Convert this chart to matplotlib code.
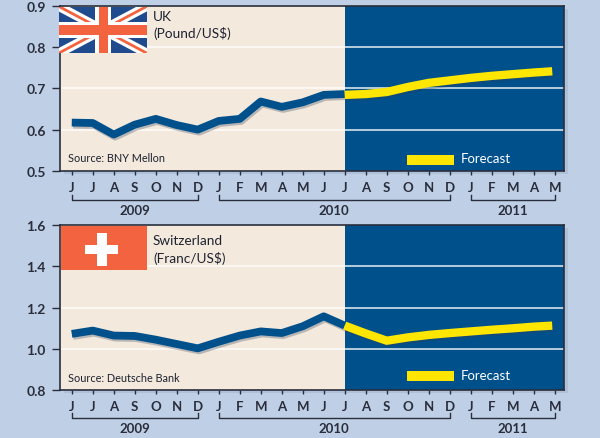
import matplotlib
matplotlib.use('Agg')
import matplotlib.pyplot as plt
import matplotlib.patheffects as pe
from matplotlib.patches import Rectangle

months = ['J', 'J', 'A', 'S', 'O', 'N', 'D', 'J', 'F', 'M', 'A', 'M',
          'J', 'J', 'A', 'S', 'O', 'N', 'D', 'J', 'F', 'M', 'A', 'M']
years = ['2009', '2010', '2011']
year_spans = [(0, 6), (7, 18), (19, 23)]
split = 13

hist_x = list(range(0, 14))
fc_x = [13, 14, 15, 16, 17, 18, 19, 20, 21, 22, 22.88]

uk_hist = [0.617, 0.616, 0.588, 0.612, 0.626, 0.611, 0.600, 0.621, 0.626, 0.668, 0.655, 0.666, 0.684, 0.686]
uk_fc = [0.684, 0.686, 0.691, 0.703, 0.713, 0.719, 0.725, 0.730, 0.734, 0.738, 0.741]
uk_ticks = [0.5, 0.6, 0.7, 0.8, 0.9]

ch_hist = [1.073, 1.089, 1.065, 1.063, 1.045, 1.024, 1.003, 1.035, 1.065, 1.085, 1.077, 1.110, 1.158, 1.113]
ch_fc = [1.113, 1.075, 1.040, 1.056, 1.068, 1.077, 1.085, 1.093, 1.100, 1.108, 1.113]
ch_ticks = [0.8, 1.0, 1.2, 1.4, 1.6]

BG = '#BFD0E6'
BEIGE = '#F3E9DD'
BLUE = '#00508C'
YELLOW = '#FFE600'
DARK = '#2A2E3C'
FLAG_RED = '#F4633F'
FLAG_BLUE = '#1F4B8E'

plt.rcParams['font.family'] = ['Lato', 'DejaVu Sans']

W, H = 600, 439
fig = plt.figure(figsize=(6, 4.39), dpi=100, facecolor=BG)


def make_axes(left, top, right, bottom):
    return fig.add_axes([left / W, 1 - bottom / H, (right - left) / W, (bottom - top) / H])


def draw_panel(ax, hist, fc, ticks, fmt, bracket_y, year_y, pad):
    ax.set_facecolor(BEIGE)
    ax.set_xlim(-0.56, 23.44)
    ax.set_ylim(ticks[0], ticks[-1])
    ax.axvspan(split, 23.44, color=BLUE, lw=0, zorder=1)
    for t in ticks[1:-1]:
        ax.axhline(t, color='white', lw=1.1, zorder=1.5, alpha=0.9)

    shadow = [pe.SimpleLineShadow(offset=(1, -1.5), shadow_color='#30405A', alpha=0.3), pe.Normal()]
    ax.plot(hist_x, hist, color=BLUE, lw=5.6, zorder=3, solid_capstyle='butt', path_effects=shadow)
    ax.plot(fc_x, fc, color=YELLOW, lw=6, zorder=4, solid_capstyle='butt', path_effects=shadow)

    ax.set_xticks(range(len(months)))
    ax.set_xticklabels(months, fontsize=9.5, color=DARK, fontweight='bold')
    ax.tick_params(axis='x', length=3, width=1, color=DARK, pad=pad)
    ax.set_yticks(ticks)
    ax.set_yticklabels([fmt % t for t in ticks], fontsize=10, color=DARK, fontweight='bold')
    ax.tick_params(axis='y', length=5.8, width=1, color=DARK, pad=4.5)
    for s in ax.spines.values():
        s.set_color(DARK)
        s.set_linewidth(1.2)

    trans = ax.get_xaxis_transform()
    for name, (a, b) in zip(years, year_spans):
        ax.plot([a, a, b, b], [bracket_y + 0.03, bracket_y, bracket_y, bracket_y + 0.03],
                color=DARK, lw=1, transform=trans, clip_on=False)
        ax.text((a + b) / 2, year_y, name, transform=trans, ha='center', va='center',
                fontsize=9.5, color=DARK, fontweight='bold')


ax1 = make_axes(60, 6.5, 564, 172)
ax2 = make_axes(60, 226, 564, 391.3)
draw_panel(ax1, uk_hist, uk_fc, uk_ticks, '%.1f', -0.175, -0.235, 4)
draw_panel(ax2, ch_hist, ch_fc, ch_ticks, '%.1f', -0.167, -0.228, 4)

# soft shadow behind the panels
under = fig.add_axes([0, 0, 1, 1], zorder=-1)
under.set_xlim(0, W)
under.set_ylim(H, 0)
under.axis('off')
for top, bottom in [(6.5, 172), (226, 391.3)]:
    under.add_patch(Rectangle((64, top + 3), 504, bottom - top, color='#AFC1D9', lw=0))

# flags, captions and legend go on a pixel overlay
top_ax = fig.add_axes([0, 0, 1, 1], zorder=10)
top_ax.set_xlim(0, W)
top_ax.set_ylim(H, 0)
top_ax.axis('off')
top_ax.patch.set_alpha(0)

fx0, fx1, fy0, fy1 = 59, 146.5, 7.5, 54
top_ax.add_patch(Rectangle((fx0, fy0), fx1 - fx0, fy1 - fy0, color=FLAG_BLUE, lw=0, zorder=1))
flag_clip = Rectangle((fx0, fy0), fx1 - fx0, fy1 - fy0, transform=top_ax.transData)
for d in ([(fx0, fy0), (fx1, fy1)], [(fx0, fy1), (fx1, fy0)]):
    for col, lw in [('white', 6.5), (FLAG_RED, 2)]:
        line, = top_ax.plot(*zip(*d), color=col, lw=lw, solid_capstyle='butt', zorder=2)
        line.set_clip_path(flag_clip)
cx, cy = (fx0 + fx1) / 2 + 0.5, (fy0 + fy1) / 2
top_ax.add_patch(Rectangle((cx - 8, fy0), 16, fy1 - fy0, color='white', lw=0, zorder=3))
top_ax.add_patch(Rectangle((fx0, cy - 8), fx1 - fx0, 16, color='white', lw=0, zorder=3))
top_ax.add_patch(Rectangle((cx - 4.5, fy0), 9, fy1 - fy0, color=FLAG_RED, lw=0, zorder=4))
top_ax.add_patch(Rectangle((fx0, cy - 5), fx1 - fx0, 10, color=FLAG_RED, lw=0, zorder=4))

top_ax.add_patch(Rectangle((61, 226.5), 85.5, 44.5, color=FLAG_RED, lw=0))
top_ax.add_patch(Rectangle((85, 245.5), 32.5, 9, color='white', lw=0))
top_ax.add_patch(Rectangle((96.5, 233.5), 10, 33, color='white', lw=0))

for x, y, s in [(153, 17, 'UK'), (153, 33, '(Pound/US$)'),
                (153, 241, 'Switzerland'), (153, 259, '(Franc/US$)')]:
    top_ax.text(x, y, s, fontsize=9.8, color='#1E2230', ha='left', va='center')
for y, s in [(159, 'Source: BNY Mellon'), (379, 'Source: Deutsche Bank')]:
    top_ax.text(68, y, s, fontsize=7.8, color='#1E2230', ha='left', va='center')
for y in (160.5, 377):
    top_ax.add_patch(Rectangle((406.7, y - 5), 47.5, 10, color=YELLOW, lw=0))
    top_ax.text(460.5, y - 1, 'Forecast', fontsize=9.5, color='white', ha='left', va='center')

fig.savefig('out.png', dpi=100, facecolor=BG)
